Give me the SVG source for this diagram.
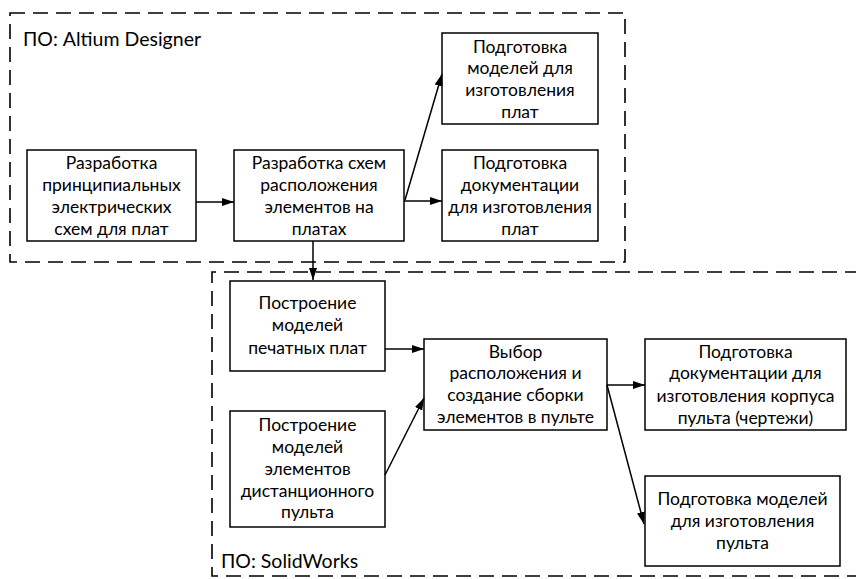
<svg xmlns="http://www.w3.org/2000/svg" width="856" height="579" viewBox="0 0 856 579">
<defs>
<marker id="ah" markerWidth="12" markerHeight="8" refX="12" refY="4" orient="auto" markerUnits="userSpaceOnUse">
<path d="M0,0 L12,4 L0,8 Z" fill="#000"/>
</marker>
<style>
.grp{fill:none;stroke:#000;stroke-width:1.6;stroke-dasharray:15 8}
.box{fill:#fff;stroke:#000;stroke-width:1.5}
.t{font-family:Lato,"Open Sans",sans-serif;font-size:17.5px;fill:#000;text-anchor:middle}
.lbl{font-family:Lato,"Open Sans",sans-serif;font-size:19.5px;fill:#000}
.c{fill:none;stroke:#000;stroke-width:1.5;marker-end:url(#ah)}
</style>
</defs>
<rect width="856" height="579" fill="#fff"/>
<g id="group-altium">
<rect class="grp" x="10" y="13" width="615" height="249"/>
<text class="lbl" x="23" y="46">ПО: Altium Designer</text>
</g>
<g id="group-solidworks">
<path class="grp" d="M860,272 H212 V576 H860"/>
<text class="lbl" x="221" y="568">ПО: SolidWorks</text>
</g>
<g id="n1">
<rect class="box" x="27" y="150" width="169" height="91"/>
<text class="t"><tspan x="111.5" y="169">Разработка</tspan><tspan x="111.5" y="191">принципиальных</tspan><tspan x="111.5" y="213">электрических</tspan><tspan x="111.5" y="235">схем для плат</tspan></text>
</g>
<g id="n2">
<rect class="box" x="234" y="150" width="170" height="91"/>
<text class="t"><tspan x="319" y="169">Разработка схем</tspan><tspan x="319" y="191">расположения</tspan><tspan x="319" y="213">элементов на</tspan><tspan x="319" y="235">платах</tspan></text>
</g>
<g id="n3">
<rect class="box" x="442" y="33" width="156" height="91"/>
<text class="t"><tspan x="520" y="53">Подготовка</tspan><tspan x="520" y="74">моделей для</tspan><tspan x="520" y="96">изготовления</tspan><tspan x="520" y="118">плат</tspan></text>
</g>
<g id="n4">
<rect class="box" x="442" y="150" width="156" height="91"/>
<text class="t"><tspan x="520" y="169">Подготовка</tspan><tspan x="520" y="191">документации</tspan><tspan x="520" y="213">для изготовления</tspan><tspan x="520" y="235">плат</tspan></text>
</g>
<g id="n5">
<rect class="box" x="230" y="281" width="155" height="90"/>
<text class="t"><tspan x="307.5" y="309">Построение</tspan><tspan x="307.5" y="331">моделей</tspan><tspan x="307.5" y="354">печатных плат</tspan></text>
</g>
<g id="n6">
<rect class="box" x="230" y="411" width="155" height="116"/>
<text class="t"><tspan x="307.5" y="431">Построение</tspan><tspan x="307.5" y="453">моделей</tspan><tspan x="307.5" y="475">элементов</tspan><tspan x="307.5" y="497">дистанционного</tspan><tspan x="307.5" y="518">пульта</tspan></text>
</g>
<g id="n7">
<rect class="box" x="424" y="339" width="183" height="91"/>
<text class="t"><tspan x="515.5" y="358">Выбор</tspan><tspan x="515.5" y="379">расположения и</tspan><tspan x="515.5" y="401">создание сборки</tspan><tspan x="515.5" y="423">элементов в пульте</tspan></text>
</g>
<g id="n8">
<rect class="box" x="645" y="339" width="201" height="91"/>
<text class="t"><tspan x="745.5" y="358">Подготовка</tspan><tspan x="745.5" y="379">документации для</tspan><tspan x="745.5" y="402">изготовления корпуса</tspan><tspan x="745.5" y="424">пульта (чертежи)</tspan></text>
</g>
<g id="n9">
<rect class="box" x="645" y="476" width="195" height="90"/>
<text class="t"><tspan x="742.5" y="505">Подготовка моделей</tspan><tspan x="742.5" y="527">для изготовления</tspan><tspan x="742.5" y="549">пульта</tspan></text>
</g>
<g id="connectors">
<line class="c" x1="196" y1="202" x2="234" y2="202"/>
<line class="c" x1="404" y1="201" x2="442" y2="201"/>
<line class="c" x1="405" y1="200" x2="442" y2="74"/>
<line class="c" x1="313" y1="241" x2="313" y2="280"/>
<line class="c" x1="385" y1="349" x2="424" y2="349"/>
<line class="c" x1="385" y1="475" x2="424" y2="398"/>
<line class="c" x1="607" y1="385" x2="645" y2="385"/>
<line class="c" x1="607" y1="385" x2="644" y2="524"/>
</g>
</svg>
